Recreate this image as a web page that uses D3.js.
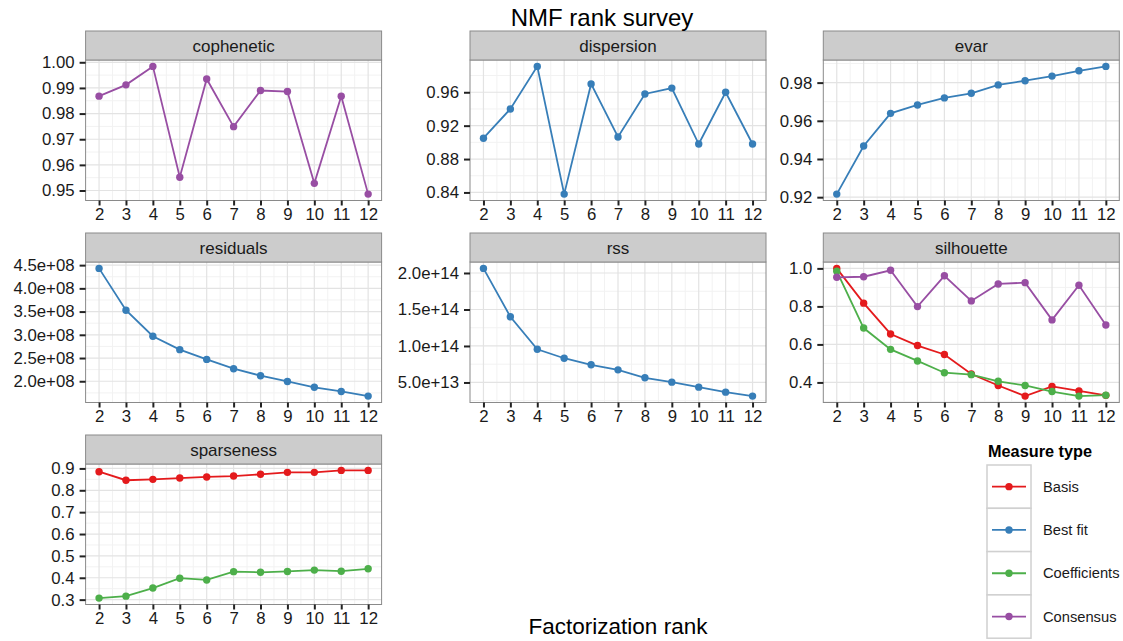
<!DOCTYPE html>
<html>
<head>
<meta charset="utf-8">
<script src="https://cdn.jsdelivr.net/npm/d3@7"></script>
<style>
  body { margin: 0; background: #fff; }
  svg { font-family: "Liberation Sans", Arial, sans-serif; }
</style>
</head>
<body>
<svg id="chart" width="1123" height="641"></svg>
<script>
// ranks on the x axis
const ranks = [2, 3, 4, 5, 6, 7, 8, 9, 10, 11, 12];

// measure types (legend)
const types = ['Basis', 'Best fit', 'Coefficients', 'Consensus'];
const typeColors = ['#E41A1C', '#377EB8', '#4DAF4A', '#984EA3'];

// values
const copheneticConsensus = [0.9868, 0.9912, 0.9984, 0.9552, 0.9935, 0.9749, 0.9890, 0.9886, 0.9528, 0.9868, 0.9486];
const dispersionBestFit   = [0.905, 0.940, 0.991, 0.838, 0.970, 0.9065, 0.958, 0.965, 0.898, 0.960, 0.898];
const evarBestFit         = [0.9216, 0.9468, 0.9639, 0.9683, 0.9720, 0.9744, 0.9788, 0.9810, 0.9834, 0.9862, 0.9885];
const residualsBestFit    = [4.43e8, 3.53e8, 2.97e8, 2.68e8, 2.47e8, 2.27e8, 2.12e8, 1.995e8, 1.87e8, 1.78e8, 1.68e8];
const rssBestFit          = [2.063e14, 1.40e14, 0.955e14, 0.832e14, 0.742e14, 0.673e14, 0.564e14, 0.504e14, 0.436e14, 0.367e14, 0.313e14];
const silhouetteBasis     = [1.0, 0.817, 0.655, 0.594, 0.547, 0.444, 0.384, 0.328, 0.379, 0.355, 0.332];
const silhouetteCoef      = [0.985, 0.686, 0.574, 0.513, 0.451, 0.441, 0.406, 0.384, 0.352, 0.328, 0.333];
const silhouetteConsensus = [0.953, 0.956, 0.990, 0.799, 0.961, 0.829, 0.918, 0.925, 0.729, 0.911, 0.702];
const sparsenessBasis     = [0.885, 0.846, 0.850, 0.856, 0.861, 0.865, 0.873, 0.882, 0.882, 0.891, 0.891];
const sparsenessCoef      = [0.307, 0.316, 0.353, 0.398, 0.390, 0.428, 0.425, 0.429, 0.435, 0.430, 0.441];

// y breaks per panel
const copheneticTicks = [0.95, 0.96, 0.97, 0.98, 0.99, 1.00];
const dispersionTicks = [0.84, 0.88, 0.92, 0.96];
const evarTicks       = [0.92, 0.94, 0.96, 0.98];
const residualsTicks  = [2.0e8, 2.5e8, 3.0e8, 3.5e8, 4.0e8, 4.5e8];
const rssTicks        = [5.0e13, 1.0e14, 1.5e14, 2.0e14];
const silhouetteTicks = [0.4, 0.6, 0.8, 1.0];
const sparsenessTicks = [0.3, 0.4, 0.5, 0.6, 0.7, 0.8, 0.9];

// R style scientific labels, e.g. 4.5e+08
function sci(v) {
    const s = d3.format('.1e')(v);
    const [m, e] = s.split('e');
    const sign = e[0] === '-' ? '-' : '+';
    const digits = e.replace(/[+-]/, '').padStart(2, '0');
    return `${m}e${sign}${digits}`;
}

const panels = [
    { name: 'cophenetic', ticks: copheneticTicks, fmt: d3.format('.2f'), series: [[3, copheneticConsensus]] },
    { name: 'dispersion', ticks: dispersionTicks, fmt: d3.format('.2f'), series: [[1, dispersionBestFit]] },
    { name: 'evar', ticks: evarTicks, fmt: d3.format('.2f'), series: [[1, evarBestFit]] },
    { name: 'residuals', ticks: residualsTicks, fmt: sci, series: [[1, residualsBestFit]] },
    { name: 'rss', ticks: rssTicks, fmt: sci, series: [[1, rssBestFit]] },
    { name: 'silhouette', ticks: silhouetteTicks, fmt: d3.format('.1f'),
      series: [[0, silhouetteBasis], [2, silhouetteCoef], [3, silhouetteConsensus]] },
    { name: 'sparseness', ticks: sparsenessTicks, fmt: d3.format('.1f'),
      series: [[0, sparsenessBasis], [2, sparsenessCoef]] }
];

// facet grid geometry
const colX = [85.6, 470, 823.3];
const rowY = [31, 233, 435];
const panelW = 296;
const stripH = 29;
const plotH = 140.5;

const svg = d3.select('#chart');

panels.forEach((p, i) => {
    const col = i % 3, row = Math.floor(i / 3);
    const g = svg.append('g').attr('transform', `translate(${colX[col]},${rowY[row]})`);

    // free y scale with 5% expansion like ggplot
    const all = p.series.flatMap(s => s[1]);
    const lo = d3.min(all), hi = d3.max(all);
    const pad = (hi - lo) * 0.05;
    const y = d3.scaleLinear().domain([lo - pad, hi + pad]).range([stripH + plotH, stripH]);
    const x = d3.scaleLinear().domain([1.5, 12.5]).range([0, panelW]);

    // panel background
    g.append('rect').attr('x', 0).attr('y', stripH).attr('width', panelW).attr('height', plotH)
        .attr('fill', '#fff');

    // minor grid
    const step = p.ticks[1] - p.ticks[0];
    const yMinor = [p.ticks[0] - step / 2, ...p.ticks.map(t => t + step / 2)]
        .filter(v => v > y.domain()[0] && v < y.domain()[1]);
    const xMinor = ranks.slice(1).map(r => r - 0.5);
    g.selectAll('.ymin').data(yMinor).enter().append('line')
        .attr('x1', 0).attr('x2', panelW).attr('y1', d => y(d)).attr('y2', d => y(d))
        .attr('stroke', '#f2f2f2').attr('stroke-width', 1);
    g.selectAll('.xmin').data(xMinor).enter().append('line')
        .attr('y1', stripH).attr('y2', stripH + plotH).attr('x1', d => x(d)).attr('x2', d => x(d))
        .attr('stroke', '#f2f2f2').attr('stroke-width', 1);

    // major grid
    g.selectAll('.ymaj').data(p.ticks).enter().append('line')
        .attr('x1', 0).attr('x2', panelW).attr('y1', d => y(d)).attr('y2', d => y(d))
        .attr('stroke', '#e3e3e3').attr('stroke-width', 1.2);
    g.selectAll('.xmaj').data(ranks).enter().append('line')
        .attr('y1', stripH).attr('y2', stripH + plotH).attr('x1', d => x(d)).attr('x2', d => x(d))
        .attr('stroke', '#e3e3e3').attr('stroke-width', 1.2);

    // lines and points
    const line = d3.line().x((d, k) => x(ranks[k])).y(d => y(d));
    p.series.forEach(([t, vals]) => {
        g.append('path').attr('d', line(vals)).attr('fill', 'none')
            .attr('stroke', typeColors[t]).attr('stroke-width', 1.8);
        g.selectAll(null).data(vals).enter().append('circle')
            .attr('cx', (d, k) => x(ranks[k])).attr('cy', d => y(d)).attr('r', 3.7)
            .attr('fill', typeColors[t]);
    });

    // panel border
    g.append('rect').attr('x', 0).attr('y', stripH).attr('width', panelW).attr('height', plotH)
        .attr('fill', 'none').attr('stroke', '#8a8a8a').attr('stroke-width', 1);

    // strip
    g.append('rect').attr('x', 0).attr('y', 0).attr('width', panelW).attr('height', stripH)
        .attr('fill', '#cccccc').attr('stroke', '#8a8a8a').attr('stroke-width', 1);
    g.append('text').attr('x', panelW / 2).attr('y', stripH / 2 + 6)
        .attr('text-anchor', 'middle').attr('font-size', 17).attr('fill', '#1a1a1a')
        .text(p.name);

    // axes
    const yAxis = d3.axisLeft(y).tickValues(p.ticks).tickFormat(p.fmt).tickSize(6).tickPadding(5);
    const xAxis = d3.axisBottom(x).tickValues(ranks).tickFormat(d3.format('d')).tickSize(5).tickPadding(3);
    const ya = g.append('g').call(yAxis);
    const xa = g.append('g').attr('transform', `translate(0,${stripH + plotH})`).call(xAxis);
    [ya, xa].forEach(a => {
        a.select('.domain').remove();
        a.selectAll('line').attr('stroke', '#222').attr('stroke-width', 2);
        a.selectAll('text').attr('font-size', 16.8).attr('fill', '#1a1a1a')
            .attr('font-family', '"Liberation Sans", Arial, sans-serif');
    });
});

// titles
svg.append('text').attr('x', 602).attr('y', 26).attr('text-anchor', 'middle')
    .attr('font-size', 24).attr('fill', '#000').text('NMF rank survey');
svg.append('text').attr('x', 618).attr('y', 634).attr('text-anchor', 'middle')
    .attr('font-size', 22.5).attr('fill', '#000').text('Factorization rank');

// legend
const legend = svg.append('g').attr('transform', 'translate(987,465)');
legend.append('text').attr('x', 1).attr('y', -8).attr('font-size', 16.3).attr('font-weight', 'bold')
    .text('Measure type');
const keyH = 43.3;
const keys = legend.selectAll('.key').data(types).enter().append('g')
    .attr('transform', (d, i) => `translate(0,${i * keyH})`);
keys.append('rect').attr('width', 44).attr('height', keyH).attr('fill', '#fff')
    .attr('stroke', '#d0d0d0').attr('stroke-width', 1.5);
keys.append('line').attr('x1', 5).attr('x2', 39).attr('y1', keyH / 2).attr('y2', keyH / 2)
    .attr('stroke', (d, i) => typeColors[i]).attr('stroke-width', 1.8);
keys.append('circle').attr('cx', 22).attr('cy', keyH / 2).attr('r', 3.7)
    .attr('fill', (d, i) => typeColors[i]);
keys.append('text').attr('x', 56).attr('y', keyH / 2 + 5).attr('font-size', 14.7).attr('fill', '#1a1a1a')
    .text(d => d);
</script>
</body>
</html>
